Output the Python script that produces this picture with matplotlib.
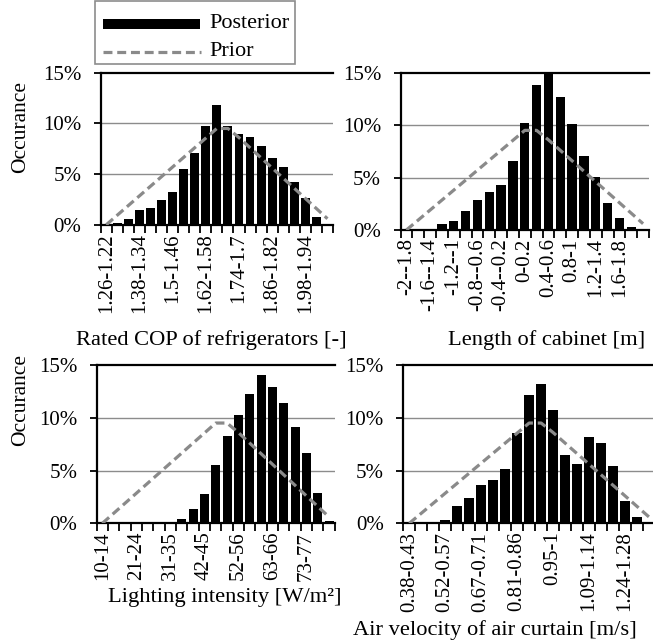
import matplotlib
matplotlib.use("Agg")
import matplotlib.pyplot as plt
from matplotlib.patches import Rectangle
from matplotlib.lines import Line2D
import numpy as np

plt.rcParams['font.family'] = ['Liberation Serif', 'DejaVu Serif']

# ---------------- data (percent occurrence per bin) ----------------
prior = [0.0, 0.95, 1.9, 2.85, 3.8, 4.75, 5.7, 6.65, 7.6, 8.55, 9.5,
         9.5, 8.6, 7.6, 6.6, 5.6, 4.6, 3.6, 2.6, 1.6, 0.6]

cop_post = [0.0, 0.15, 0.55, 1.5, 1.7, 2.4, 3.2, 5.5, 7.1, 9.7, 11.8,
            9.7, 9.0, 8.7, 7.8, 6.6, 5.7, 4.2, 2.6, 0.75, 0.0]
cop_labels = ["1.26-1.22", "1.38-1.34", "1.5-1.46", "1.62-1.58",
              "1.74-1.7", "1.86-1.82", "1.98-1.94"]

cab_post = [0.0, 0.0, 0.0, 0.57, 0.83, 1.8, 2.9, 3.65, 4.3, 6.6, 10.25,
            13.8, 14.85, 12.7, 10.15, 7.05, 5.1, 2.55, 1.17, 0.3, 0.0]
cab_labels = ["-2--1.8", "-1.6--1.4", "-1.2--1", "-0.8--0.6", "-0.4--0.2",
              "0-0.2", "0.4-0.6", "0.8-1", "1.2-1.4", "1.6-1.8"]

light_post = [0.0, 0.0, 0.0, 0.0, 0.0, 0.0, 0.0, 0.44, 1.36, 2.8, 5.5,
              8.27, 10.26, 12.25, 14.05, 12.9, 11.4, 9.15, 6.7, 2.9, 0.2]
light_labels = ["10-14", "21-24", "31-35", "42-45", "52-56", "63-66", "73-77"]

air_post = [0.0, 0.0, 0.0, 0.32, 1.67, 2.43, 3.6, 4.07, 5.1, 8.6, 12.15,
            13.17, 10.7, 6.5, 5.6, 8.2, 7.6, 5.4, 2.15, 0.6, 0.0]
air_labels = ["0.38-0.43", "0.52-0.57", "0.67-0.71", "0.81-0.86",
              "0.95-1", "1.09-1.14", "1.24-1.28"]

y_ticks = [0, 5, 10, 15]

# ---------------- layout ----------------
W, H = 653, 641
fig = plt.figure(figsize=(W / 100, H / 100), dpi=100)
FS_TICK = 15
FS_TITLE = 16.2

def px_axes(l, t, r, b):
    return fig.add_axes([l / W, 1 - b / H, (r - l) / W, (b - t) / H])

def fx(x):
    return x / W

def fy(y):
    return 1 - y / H

GRID = '#8c8c8c'
PRIOR_C = '#8a8a8a'

def panel(ax, post, labels, step):
    n = len(post)
    x = np.arange(n)
    ax.set_xlim(-0.5, n - 0.5)
    ax.set_ylim(0, 15)
    for g in (5, 10):
        ax.axhline(g, color=GRID, lw=1.0, zorder=1)
    ax.bar(x, post, width=0.8, color='black', zorder=2)
    ax.plot(x, prior, color=PRIOR_C, lw=2.3, linestyle=(0, (2.8, 1.5)),
            zorder=3, solid_capstyle='butt', dash_capstyle='butt')
    for s in ('left', 'bottom', 'top'):
        ax.spines[s].set_linewidth(1.6)
        ax.spines[s].set_color('black')
    ax.spines['right'].set_visible(False)
    # category boundary ticks
    ax.set_xticks(np.arange(n + 1) - 0.5)
    ax.set_xticklabels([])
    ax.tick_params(axis='x', which='major', length=6, width=1.3,
                   direction='out', color='black')
    ax.set_xticks(np.arange(0, step * len(labels), step), minor=True)
    ax.set_xticklabels(labels, minor=True, rotation=90, fontsize=FS_TICK)
    ax.tick_params(axis='x', which='minor', length=0, pad=6.0)
    ax.set_yticks(y_ticks)
    ax.set_yticklabels([f"{v}%" for v in y_ticks], fontsize=FS_TICK)
    ax.tick_params(axis='y', length=5, width=1.3, pad=9, direction='out')

ax1 = px_axes(100.7, 72.7, 333.0, 224.8)
panel(ax1, cop_post, cop_labels, 3)
ax2 = px_axes(400.5, 72.7, 649.0, 230.0)
panel(ax2, cab_post, cab_labels, 2)
ax3 = px_axes(96.7, 365.0, 334.7, 523.3)
panel(ax3, light_post, light_labels, 3)
ax4 = px_axes(403.3, 365.0, 655.0, 523.3)
panel(ax4, air_post, air_labels, 3)

# axis titles
fig.text(fx(76), fy(345), "Rated COP of refrigerators [-]", fontsize=FS_TITLE,
         ha='left', va='baseline')
fig.text(fx(645), fy(345), "Length of cabinet [m]", fontsize=FS_TITLE,
         ha='right', va='baseline')
fig.text(fx(108), fy(601.7), "Lighting intensity [W/m\u00b2]", fontsize=FS_TITLE,
         ha='left', va='baseline')
fig.text(fx(637), fy(635), "Air velocity of air curtain [m/s]", fontsize=FS_TITLE,
         ha='right', va='baseline')
fig.text(fx(21), fy(127), "Occurance", fontsize=15.5, rotation=90,
         ha='center', va='center')
fig.text(fx(21), fy(400), "Occurance", fontsize=15.5, rotation=90,
         ha='center', va='center')

# legend (manual, figure pixel layout)
fig.add_artist(Rectangle((fx(95), fy(64)), (295 - 95) / W, (64 - 1) / H,
                         transform=fig.transFigure, facecolor='white',
                         edgecolor='#8c8c8c', lw=1.2))
fig.add_artist(Rectangle((fx(103), fy(28.5)), (200 - 103) / W, 9.5 / H,
                         transform=fig.transFigure, facecolor='black',
                         edgecolor='none'))
fig.add_artist(Line2D([fx(103), fx(201)], [fy(51.7), fy(51.7)],
                      transform=fig.transFigure, color=PRIOR_C, lw=2.3,
                      linestyle=(0, (2.8, 1.5))))
fig.text(fx(209), fy(24), "Posterior", fontsize=16, ha='left', va='center')
fig.text(fx(209), fy(52), "Prior", fontsize=16, ha='left', va='center')

fig.savefig("out.png", dpi=100)
